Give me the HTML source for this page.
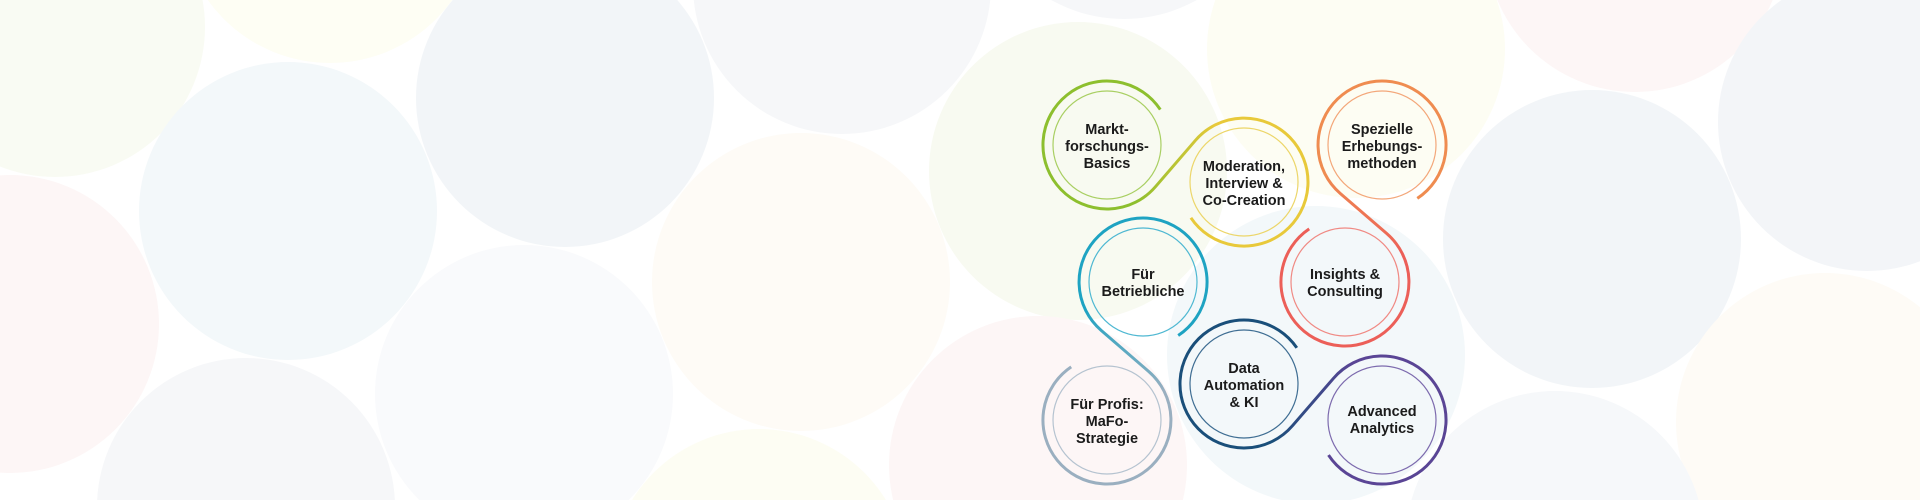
<!DOCTYPE html>
<html><head><meta charset="utf-8"><style>
html,body{margin:0;padding:0;background:#fff;width:1920px;height:500px;overflow:hidden}
svg{display:block}
text{font-family:"Liberation Sans","DejaVu Sans",sans-serif;font-weight:bold;font-size:14.5px;fill:#1b1b1b;text-anchor:middle}
</style></head><body>
<svg width="1920" height="500" viewBox="0 0 1920 500" xmlns="http://www.w3.org/2000/svg">
<defs>
<linearGradient id="g1" gradientUnits="userSpaceOnUse" x1="1107" y1="145" x2="1244" y2="182"><stop offset="0.3" stop-color="#8dbf2e"/><stop offset="0.7" stop-color="#e8c93a"/></linearGradient>
<linearGradient id="g2" gradientUnits="userSpaceOnUse" x1="1382" y1="145" x2="1345" y2="282"><stop offset="0.3" stop-color="#ef8c50"/><stop offset="0.7" stop-color="#ec5f58"/></linearGradient>
<linearGradient id="g3" gradientUnits="userSpaceOnUse" x1="1143" y1="282" x2="1107" y2="420"><stop offset="0.3" stop-color="#1ea3c2"/><stop offset="0.7" stop-color="#9aafc0"/></linearGradient>
<linearGradient id="g4" gradientUnits="userSpaceOnUse" x1="1244" y1="384" x2="1382" y2="420"><stop offset="0.3" stop-color="#1a4f7a"/><stop offset="0.7" stop-color="#5a4595"/></linearGradient>
</defs>
<!-- background circles -->
<g>
<circle cx="330" cy="-87" r="150" fill="#fefef4"/>
<circle cx="55" cy="27" r="150" fill="#f9fbf3"/>
<circle cx="565" cy="98" r="149" fill="#f2f5f8"/>
<circle cx="842" cy="-15" r="149" fill="#f6f7f9"/>
<circle cx="288" cy="211" r="149" fill="#f3f8fa"/>
<circle cx="10" cy="324" r="149" fill="#fdf6f6"/>
<circle cx="801" cy="282" r="149" fill="#fefbf6"/>
<circle cx="524" cy="394" r="149" fill="#f9fafc"/>
<circle cx="246" cy="507" r="149" fill="#f6f7f9"/>
<circle cx="-80" cy="640" r="149" fill="#f2f5f8"/>
<circle cx="759" cy="578" r="149" fill="#fdfdf3"/>
<circle cx="1124" cy="-130" r="149" fill="#f6f7f9"/>
<circle cx="1356" cy="49" r="149" fill="#fdfdf3"/>
<circle cx="1635" cy="-57" r="149" fill="#fdf6f6"/>
<circle cx="1078" cy="171" r="149" fill="#f8faf1"/>
<circle cx="1316" cy="355" r="149" fill="#f3f8fa"/>
<circle cx="1038" cy="465" r="149" fill="#fdf6f6"/>
<circle cx="1592" cy="239" r="149" fill="#f2f5f8"/>
<circle cx="1867" cy="122" r="149" fill="#f3f5f8"/>
<circle cx="1825" cy="422" r="149" fill="#fefbf6"/>
<circle cx="1555" cy="540" r="149" fill="#f6f8fa"/>
</g>
<!-- inner circles -->
<g fill="none" stroke-width="1.2">
<circle cx="1107" cy="145" r="54" stroke="#a9cf63"/>
<circle cx="1244" cy="182" r="54" stroke="#ecd66a"/>
<circle cx="1382" cy="145" r="54" stroke="#f3a77a"/>
<circle cx="1345" cy="282" r="54" stroke="#f08a84"/>
<circle cx="1143" cy="282" r="54" stroke="#4fb8d2"/>
<circle cx="1107" cy="420" r="54" stroke="#b5c3d0"/>
<circle cx="1244" cy="384" r="54" stroke="#3f6e93"/>
<circle cx="1382" cy="420" r="54" stroke="#7d6bae"/>
</g>
<!-- spiral paths -->
<g fill="none" stroke-width="3" stroke-linecap="butt">
<path stroke="url(#g1)" d="M1160.3,109.6 A64,64 0 1 0 1155.5,186.7 L1195.5,140.3 A64,64 0 1 1 1190.9,217.8"/>
<path stroke="url(#g2)" d="M1417.3,198.4 A64,64 0 1 0 1340.3,193.5 L1386.7,233.5 A64,64 0 1 1 1309.2,228.9"/>
<path stroke="url(#g3)" d="M1178.2,335.5 A64,64 0 1 0 1101.3,330.5 L1148.7,371.5 A64,64 0 1 1 1071.2,366.9"/>
<path stroke="url(#g4)" d="M1296.8,347.8 A64,64 0 1 0 1292.5,425.7 L1333.5,378.3 A64,64 0 1 1 1328.5,455.1"/>
</g>
<!-- labels -->
<text x="1107" y="134">Markt-</text><text x="1107" y="151">forschungs-</text><text x="1107" y="168">Basics</text>
<text x="1244" y="171">Moderation,</text><text x="1244" y="188">Interview &amp;</text><text x="1244" y="205">Co-Creation</text>
<text x="1382" y="134">Spezielle</text><text x="1382" y="151">Erhebungs-</text><text x="1382" y="168">methoden</text>
<text x="1143" y="279">Für</text><text x="1143" y="296">Betriebliche</text>
<text x="1345" y="279">Insights &amp;</text><text x="1345" y="296">Consulting</text>
<text x="1244" y="373">Data</text><text x="1244" y="390">Automation</text><text x="1244" y="407">&amp; KI</text>
<text x="1107" y="409">Für Profis:</text><text x="1107" y="426">MaFo-</text><text x="1107" y="443">Strategie</text>
<text x="1382" y="416">Advanced</text><text x="1382" y="433">Analytics</text>
</svg>
</body></html>
